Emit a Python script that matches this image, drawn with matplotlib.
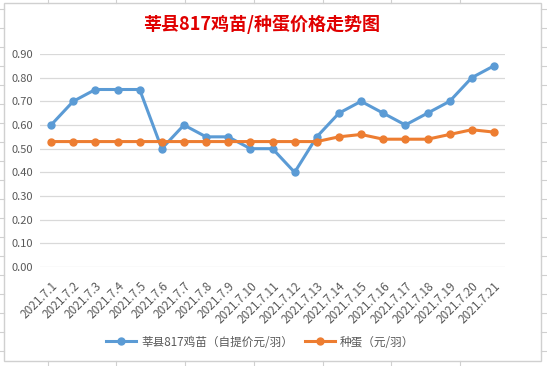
import matplotlib.pyplot as plt
from matplotlib.lines import Line2D
from matplotlib.patches import Rectangle

plt.rcParams['font.family'] = ['Noto Sans CJK SC', 'DejaVu Sans']

dates = ["2021.7.%d" % d for d in range(1, 22)]
chick_price = [0.60, 0.70, 0.75, 0.75, 0.75, 0.50, 0.60, 0.55, 0.55, 0.50, 0.50,
               0.40, 0.55, 0.65, 0.70, 0.65, 0.60, 0.65, 0.70, 0.80, 0.85]
egg_price = [0.53, 0.53, 0.53, 0.53, 0.53, 0.53, 0.53, 0.53, 0.53, 0.53, 0.53,
             0.53, 0.53, 0.55, 0.56, 0.54, 0.54, 0.54, 0.56, 0.58, 0.57]
y_ticks = [0.0, 0.1, 0.2, 0.3, 0.4, 0.5, 0.6, 0.7, 0.8, 0.9]

fig = plt.figure(figsize=(5.47, 3.66), dpi=100)
ax = fig.add_axes([40 / 547, 1 - 267 / 366, 465 / 547, 213 / 366])

x = range(len(dates))
ax.plot(x, chick_price, color='#5B9BD5', lw=2.2, marker='o', ms=5,
        label='莘县817鸡苗（自提价元/羽）')
ax.plot(x, egg_price, color='#ED7D31', lw=2.2, marker='o', ms=5,
        label='种蛋（元/羽）')

ax.set_xlim(-0.5, len(dates) - 0.5)
ax.set_ylim(0, 0.9)
ax.set_yticks(y_ticks)
ax.set_yticklabels(["%.2f" % v for v in y_ticks], fontsize=8, color='#595959')
ax.set_xticks(list(x))
ax.set_xticklabels(dates, rotation=45, ha='right', rotation_mode='anchor',
                   fontsize=8.5, color='#595959')
ax.tick_params(length=0, pad=5)
ax.tick_params(axis='x', pad=9)
ax.grid(axis='y', color='#D9D9D9', lw=0.9)
ax.set_axisbelow(True)
for s in ax.spines.values():
    s.set_visible(False)

fig.text(262 / 547, 1 - 24 / 366, '莘县817鸡苗/种蛋价格走势图', color='#E00000',
         fontsize=13, fontweight='bold', ha='center', va='center')

fig.legend(loc='center', bbox_to_anchor=(260 / 547, 1 - 342 / 366), ncol=2,
           frameon=False, fontsize=8.4, handlelength=2.6, columnspacing=1.0,
           handletextpad=0.4, labelcolor='#595959')

# chart border and spreadsheet cell lines around it
fig.add_artist(Rectangle((4 / 547, 1 - 361 / 366), 537 / 547, 358 / 366,
                         transform=fig.transFigure, fill=False,
                         edgecolor='#D0D0D0', lw=1))
for px in [48, 116, 185, 254, 323, 391, 460]:
    fig.add_artist(Line2D([px / 547, px / 547], [1, 1 - 3 / 366], color='#D0D0D0', lw=0.8))
    fig.add_artist(Line2D([px / 547, px / 547], [0, 5 / 366], color='#D0D0D0', lw=0.8))
for py in range(9, 366, 19):
    fig.add_artist(Line2D([0, 4 / 547], [1 - py / 366, 1 - py / 366], color='#D0D0D0', lw=0.8))
    fig.add_artist(Line2D([541 / 547, 1], [1 - py / 366, 1 - py / 366], color='#D0D0D0', lw=0.8))

fig.savefig('out.png', dpi=100)
